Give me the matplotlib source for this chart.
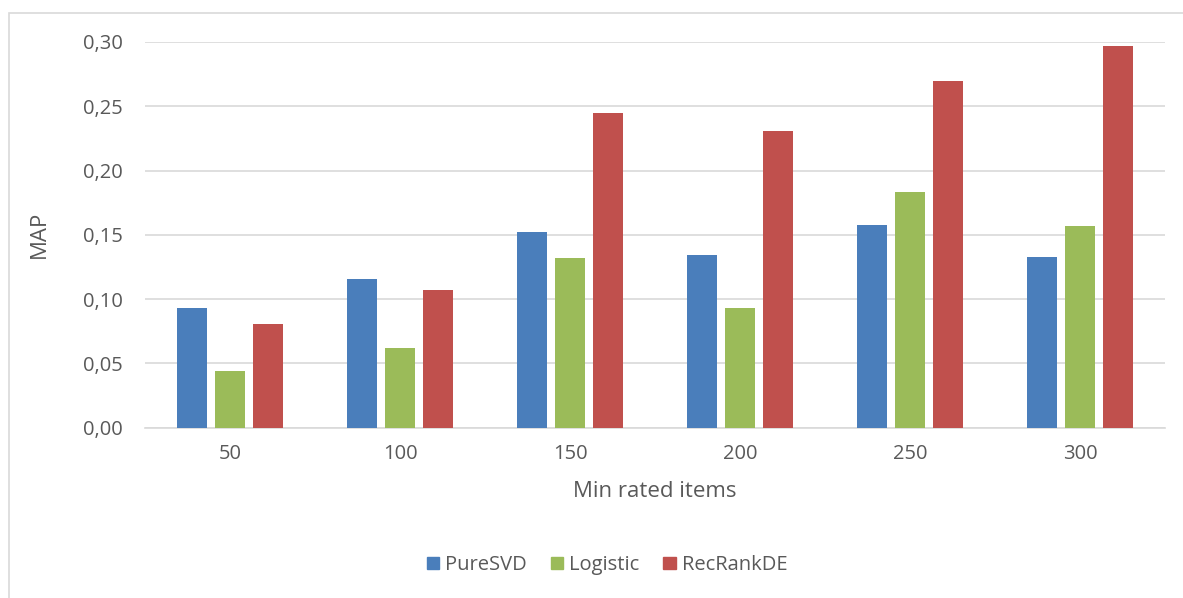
import matplotlib.pyplot as plt
import matplotlib.patches as mpatches
import numpy as np

plt.rcParams['font.family'] = ['Open Sans', 'DejaVu Sans']

categories = ['50', '100', '150', '200', '250', '300']
pure_svd = [0.093, 0.116, 0.152, 0.134, 0.158, 0.133]
logistic = [0.044, 0.062, 0.132, 0.093, 0.183, 0.157]
recrankde = [0.081, 0.107, 0.245, 0.231, 0.270, 0.297]
series = ['PureSVD', 'Logistic', 'RecRankDE']
colors = ['#4a7ebb', '#9bbb59', '#c0504d']
yticks = [0.00, 0.05, 0.10, 0.15, 0.20, 0.25, 0.30]

fig = plt.figure(figsize=(11.83, 5.98), dpi=100)
ax = fig.add_axes([145/1183, 1-427.7/598, 1020/1183, (427.7-42)/598])

x = np.arange(len(categories))
w = 0.176
step = 0.2235
for i, (vals, c) in enumerate(zip([pure_svd, logistic, recrankde], colors)):
    ax.bar(x + (i-1)*step, vals, w, color=c, label=series[i], zorder=3)

ax.set_xlim(-0.5, len(categories)-0.5)
ax.set_ylim(0, 0.30)
ax.set_yticks(yticks)
ax.set_yticklabels([('%.2f' % v).replace('.', ',') for v in yticks],
                   fontsize=14.5, color='#595959')
ax.set_xticks(x)
ax.set_xticklabels(categories, fontsize=14.5, color='#595959')
ax.tick_params(axis='x', length=0, pad=12)
ax.tick_params(axis='y', length=0, pad=16)
ax.grid(axis='y', color='#d9d9d9', linewidth=1.2, zorder=0)
for s in ['top', 'right', 'left']:
    ax.spines[s].set_visible(False)
ax.spines['bottom'].set_color('#d9d9d9')
ax.spines['bottom'].set_linewidth(1.2)

ax.set_xlabel('Min rated items', fontsize=16, color='#595959', labelpad=12)
ax.set_ylabel('MAP', fontsize=16, color='#595959', labelpad=24)

handles = [mpatches.Patch(color=c, label=s) for s, c in zip(series, colors)]
fig.legend(handles=handles, loc='center', bbox_to_anchor=(607/1183, 1-565/598), ncol=3,
           frameon=False, fontsize=14.5, handlelength=0.6, handleheight=0.6,
           handletextpad=0.3, columnspacing=1.2, labelcolor='#595959')

# outer chart frame
fig.patches.append(mpatches.Rectangle((9/1183, -0.05), 1.1, 1-13/598+0.05,
                                      transform=fig.transFigure, fill=False,
                                      edgecolor='#d9d9d9', linewidth=1.2))

fig.savefig('out.png', dpi=100)
